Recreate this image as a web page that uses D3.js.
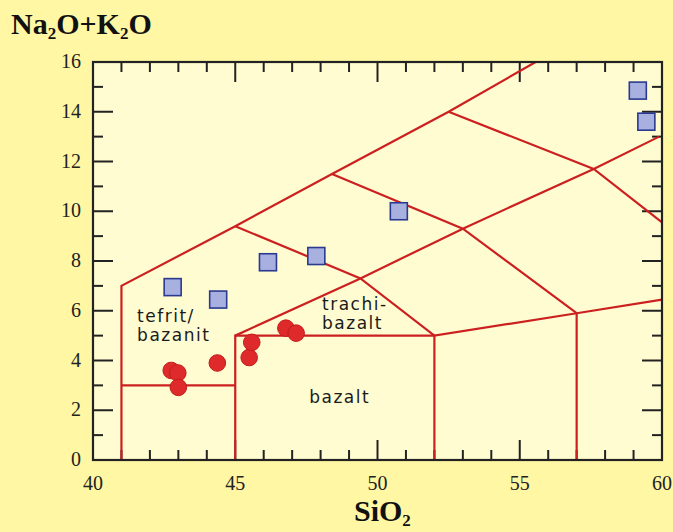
<!DOCTYPE html>
<html>
<head>
<meta charset="utf-8">
<script src="https://cdn.jsdelivr.net/npm/d3@7"></script>
<style>
  body { margin: 0; background: #fff7a3; }
  svg { display: block; }
</style>
</head>
<body>
<div id="chart"></div>
<script>
// TAS boundaries (SiO2, Na2O+K2O)
var boundaries = [
    [[41, 0], [41, 7], [45, 9.4], [48.4, 11.5], [52.5, 14], [55.56, 16]],
    [[41, 3], [45, 3]],
    [[45, 0], [45, 5], [52, 5], [52, 0]],
    [[45, 5], [49.4, 7.3], [53, 9.3], [57.6, 11.7], [59.9, 13.0]],
    [[45, 9.4], [49.4, 7.3], [52, 5], [57, 5.9], [60, 6.45]],
    [[57, 0], [57, 5.9]],
    [[48.4, 11.5], [53, 9.3], [57, 5.9]],
    [[52.5, 14], [57.6, 11.7], [60, 9.55]]
];

// blue squares
var squareSiO2 = [42.8, 44.4, 46.15, 47.85, 50.75, 59.15, 59.45];
var squareAlk  = [6.95, 6.45, 7.95, 8.2, 10.0, 14.85, 13.6];

// red circles
var circleSiO2 = [42.75, 42.98, 43.0, 44.37, 45.49, 45.58, 46.78, 47.14];
var circleAlk  = [3.6, 3.5, 2.92, 3.9, 4.12, 4.73, 5.3, 5.1];

// field names
var fieldNames = [["tefrit/", "bazanit"], ["trachi-", "bazalt"], ["bazalt"]];
var fieldSiO2 = [41.55, 48.05, 47.6];
var fieldAlk = [5.55, 6.05, 2.3];

var xTicks = [40, 45, 50, 55, 60];
var yTicks = [0, 2, 4, 6, 8, 10, 12, 14, 16];

var width = 673, height = 532;
var margin = {top: 62, right: 11, bottom: 72, left: 93};

var svg = d3.select("#chart").append("svg")
    .attr("width", width)
    .attr("height", height);

svg.append("rect")
    .attr("width", width)
    .attr("height", height)
    .attr("fill", "#fff7a3");

var x = d3.scaleLinear().domain([40, 60]).range([margin.left, width - margin.right]);
var y = d3.scaleLinear().domain([0, 16]).range([height - margin.bottom, margin.top]);

svg.append("rect")
    .attr("x", x(40))
    .attr("y", y(16))
    .attr("width", x(60) - x(40))
    .attr("height", y(0) - y(16))
    .attr("fill", "#fffcd2");

//inward ticks on all four sides
var minorX = d3.range(40, 61, 1), minorY = d3.range(0, 17, 1);
var tickG = svg.append("g").attr("stroke", "#222").attr("stroke-width", 2);
minorX.forEach(function(v){
    var len = v % 5 === 0 ? 20 : 10;
    tickG.append("line").attr("x1", x(v)).attr("x2", x(v)).attr("y1", y(0)).attr("y2", y(0) - len);
    tickG.append("line").attr("x1", x(v)).attr("x2", x(v)).attr("y1", y(16)).attr("y2", y(16) + len);
});
minorY.forEach(function(v){
    var len = v % 2 === 0 ? 20 : 10;
    tickG.append("line").attr("x1", x(40)).attr("x2", x(40) + len).attr("y1", y(v)).attr("y2", y(v));
    tickG.append("line").attr("x1", x(60)).attr("x2", x(60) - len).attr("y1", y(v)).attr("y2", y(v));
});

var line = d3.line().x(d => x(d[0])).y(d => y(d[1]));
svg.append("g").selectAll("path")
    .data(boundaries)
    .enter()
    .append("path")
    .attr("d", line)
    .attr("fill", "none")
    .attr("stroke", "#cc2020")
    .attr("stroke-width", 2.2)
    .attr("stroke-linejoin", "miter");

svg.append("rect")
    .attr("x", x(40))
    .attr("y", y(16))
    .attr("width", x(60) - x(40))
    .attr("height", y(0) - y(16))
    .attr("fill", "none")
    .attr("stroke", "#222")
    .attr("stroke-width", 2.2);

// tick labels
svg.append("g").selectAll("text")
    .data(xTicks)
    .enter()
    .append("text")
    .attr("x", d => x(d))
    .attr("y", y(0) + 30)
    .attr("text-anchor", "middle")
    .attr("font-family", "Liberation Serif")
    .attr("font-size", 20)
    .attr("fill", "#222")
    .text(d => d);

svg.append("g").selectAll("text")
    .data(yTicks)
    .enter()
    .append("text")
    .attr("x", x(40) - 12)
    .attr("y", d => y(d) + 6)
    .attr("text-anchor", "end")
    .attr("font-family", "Liberation Serif")
    .attr("font-size", 20)
    .attr("fill", "#222")
    .text(d => d);

// field labels
fieldNames.forEach(function(lines, i){
    var t = svg.append("text")
        .attr("font-family", "DejaVu Sans")
        .attr("font-size", 17)
        .attr("letter-spacing", 1.5)
        .attr("fill", "#1a1a1a");
    lines.forEach(function(s, j){
        t.append("tspan")
            .attr("x", x(fieldSiO2[i]))
            .attr("y", y(fieldAlk[i]) + j * 19)
            .text(s);
    });
});

// points
var squares = squareSiO2.map((v, i) => [v, squareAlk[i]]);
var circles = circleSiO2.map((v, i) => [v, circleAlk[i]]);

svg.append("g").selectAll("rect")
    .data(squares)
    .enter()
    .append("rect")
    .attr("x", d => x(d[0]) - 8.5)
    .attr("y", d => y(d[1]) - 8.5)
    .attr("width", 17)
    .attr("height", 17)
    .attr("fill", "#a8b0e0")
    .attr("stroke", "#2a3a90")
    .attr("stroke-width", 1.6);

svg.append("g").selectAll("circle")
    .data(circles)
    .enter()
    .append("circle")
    .attr("cx", d => x(d[0]))
    .attr("cy", d => y(d[1]))
    .attr("r", 8.3)
    .attr("fill", "#de2a2a")
    .attr("stroke", "#c41c1c")
    .attr("stroke-width", 1);

// axis titles
var yTitle = svg.append("text")
    .attr("x", 11)
    .attr("y", 34)
    .attr("font-family", "Liberation Serif")
    .attr("font-weight", "bold")
    .attr("font-size", 30)
    .attr("fill", "#111");
yTitle.append("tspan").text("Na");
yTitle.append("tspan").attr("font-size", 17).attr("dy", 5).text("2");
yTitle.append("tspan").attr("dy", -5).text("O+K");
yTitle.append("tspan").attr("font-size", 17).attr("dy", 5).text("2");
yTitle.append("tspan").attr("dy", -5).text("O");

var xTitle = svg.append("text")
    .attr("x", 354)
    .attr("y", 521)
    .attr("font-family", "Liberation Serif")
    .attr("font-weight", "bold")
    .attr("font-size", 30)
    .attr("fill", "#111");
xTitle.append("tspan").text("SiO");
xTitle.append("tspan").attr("font-size", 17).attr("dy", 5).text("2");
</script>
</body>
</html>
